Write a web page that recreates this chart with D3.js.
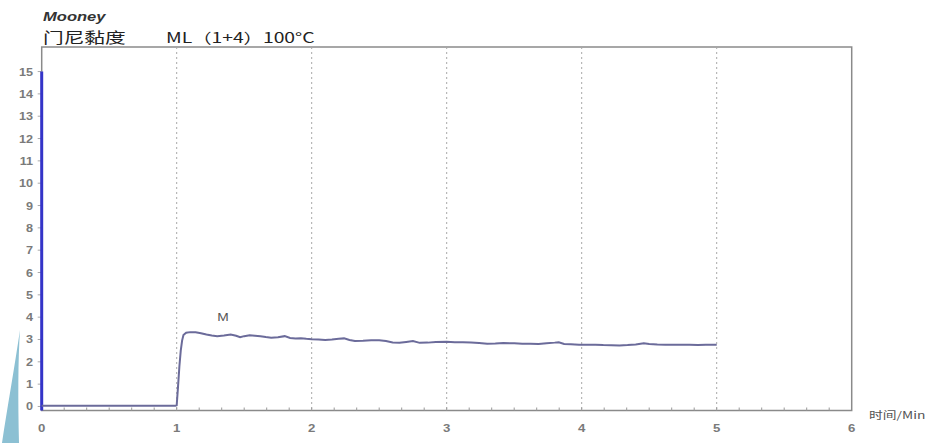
<!DOCTYPE html>
<html>
<head>
<meta charset="utf-8">
<script src="https://cdn.jsdelivr.net/npm/d3@7"></script>
<style>
  body { margin: 0; background: #fff; }
  svg { display: block; }
  .tick-label { font-family: "Liberation Sans", Arial, sans-serif; font-size: 11px; font-weight: bold; fill: #7a7a7a; }
</style>
</head>
<body>
<svg width="926" height="443"></svg>
<script>
// Mooney curve, time in minutes
const timeMin = [0, 0.5, 0.99, 1.0, 1.01, 1.02, 1.03, 1.04, 1.05, 1.07, 1.1, 1.14, 1.18, 1.22, 1.26, 1.3,
  1.35, 1.4, 1.44, 1.47, 1.5, 1.54, 1.58, 1.62, 1.66, 1.7, 1.75, 1.8, 1.84, 1.88, 1.92, 1.96, 2.0,
  2.05, 2.1, 2.15, 2.2, 2.24, 2.28, 2.32, 2.38, 2.44, 2.5, 2.55, 2.6, 2.65, 2.7, 2.75, 2.8, 2.86,
  2.92, 3.0, 3.06, 3.12, 3.18, 3.24, 3.3, 3.36, 3.42, 3.5, 3.56, 3.62, 3.68, 3.74, 3.8, 3.83, 3.87,
  3.92, 3.98, 4.04, 4.1, 4.16, 4.22, 4.28, 4.34, 4.4, 4.46, 4.5, 4.56, 4.62, 4.68, 4.74, 4.8, 4.86,
  4.92, 5.0];
const mooney = [0.03, 0.03, 0.03, 0.05, 0.9, 1.8, 2.5, 2.95, 3.2, 3.3, 3.33, 3.32, 3.28, 3.22, 3.18, 3.15,
  3.18, 3.22, 3.17, 3.1, 3.15, 3.19, 3.17, 3.15, 3.11, 3.08, 3.1, 3.15, 3.07, 3.05, 3.06, 3.03, 3.01,
  3.0, 2.98, 3.0, 3.03, 3.05, 2.98, 2.93, 2.94, 2.97, 2.97, 2.93, 2.87, 2.85, 2.89, 2.93, 2.85, 2.86,
  2.89, 2.9, 2.88, 2.88, 2.86, 2.84, 2.81, 2.82, 2.84, 2.83, 2.81, 2.81, 2.8, 2.83, 2.86, 2.88, 2.8,
  2.79, 2.77, 2.76, 2.77, 2.75, 2.74, 2.73, 2.75, 2.78, 2.83, 2.8, 2.78, 2.77, 2.76, 2.76, 2.77, 2.75,
  2.76, 2.76];

const xTicks = [0, 1, 2, 3, 4, 5, 6];
const yTicks = d3.range(0, 16);
const gridTimes = [1, 2, 3, 4, 5];

const svg = d3.select("svg");
const stretch = 1.38; // the picture is stretched sideways

const x = d3.scaleLinear().domain([0, 6]).range([41.7, 851.7]);
const y = d3.scaleLinear().domain([-0.18, 16.1]).range([410.5, 47]);

// light blue slide decoration at bottom-left
svg.append("path")
    .attr("d", "M20,330 C18,360 18,400 19,443 L2,443 C7,410 14,370 20,330 Z")
    .attr("fill", "#8cc0d3");

// plot frame
svg.append("rect")
    .attr("x", x(0)).attr("y", y(16.1))
    .attr("width", x(6) - x(0)).attr("height", y(-0.18) - y(16.1))
    .attr("fill", "none")
    .attr("stroke", "#8a8a8a")
    .attr("stroke-width", 1.5);

// vertical dotted grid
svg.selectAll(".grid")
    .data(gridTimes)
  .enter().append("line")
    .attr("x1", d => x(d)).attr("x2", d => x(d))
    .attr("y1", y(16.1)).attr("y2", y(-0.18))
    .attr("stroke", "#a8a8a8")
    .attr("stroke-width", 1)
    .attr("stroke-dasharray", "2,3");

// x minor ticks every 10 s
svg.selectAll(".xminor")
    .data(d3.range(1, 36))
  .enter().append("line")
    .attr("x1", d => x(d / 6)).attr("x2", d => x(d / 6))
    .attr("y1", y(-0.18)).attr("y2", y(-0.18) - 3)
    .attr("stroke", "#999");

// x axis labels
svg.selectAll(".xlab")
    .data(xTicks)
  .enter().append("text")
    .attr("class", "tick-label")
    .attr("transform", d => `translate(${x(d)},432) scale(1.2,1)`)
    .attr("text-anchor", "middle")
    .text(d => d);

// y ticks + labels
svg.selectAll(".ytick")
    .data(yTicks)
  .enter().append("line")
    .attr("x1", x(0) - 4).attr("x2", x(0))
    .attr("y1", d => y(d)).attr("y2", d => y(d))
    .attr("stroke", "#aaa");

svg.selectAll(".ylab")
    .data(yTicks)
  .enter().append("text")
    .attr("class", "tick-label")
    .attr("transform", d => `translate(33,${y(d) + 4}) scale(1.15,1)`)
    .attr("text-anchor", "end")
    .text(d => d);

// blue thick marker on the y axis
svg.append("line")
    .attr("x1", x(0)).attr("x2", x(0))
    .attr("y1", y(15)).attr("y2", y(-0.18))
    .attr("stroke", "#3434c8")
    .attr("stroke-width", 3);

// Mooney curve
const line = d3.line()
    .x((d, i) => x(timeMin[i]))
    .y(d => y(d));

svg.append("path")
    .datum(mooney)
    .attr("d", line)
    .attr("fill", "none")
    .attr("stroke", "#6b6b9a")
    .attr("stroke-width", 2);

svg.append("text")
    .attr("transform", `translate(223,321) scale(${stretch},1)`)
    .attr("text-anchor", "middle")
    .attr("font-family", "Liberation Sans, Arial, sans-serif")
    .attr("font-size", 10)
    .attr("fill", "#555")
    .text("M");

// titles
function title(txt, px, py, size, font, style, weight, fill) {
  svg.append("text")
      .attr("transform", `translate(${px},${py}) scale(${stretch},1)`)
      .attr("font-family", font)
      .attr("font-size", size)
      .attr("font-style", style)
      .attr("font-weight", weight)
      .attr("fill", fill)
      .text(txt);
}

title("Mooney", 43, 21, 12, "Liberation Sans, Arial, sans-serif", "italic", "bold", "#333");
title("门尼黏度", 43, 43, 15, "Noto Sans CJK SC, sans-serif", "normal", "normal", "#222");
title("ML（1+4）100°C", 166, 43, 14, "Noto Sans CJK SC, sans-serif", "normal", "normal", "#222");
title("时间/Min", 869, 419, 10, "Noto Sans CJK SC, sans-serif", "normal", "normal", "#555");
</script>
</body>
</html>
